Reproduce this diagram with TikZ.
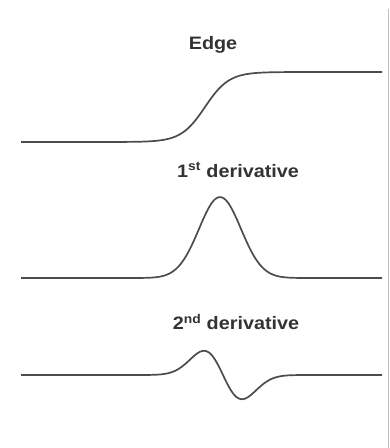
\documentclass[tikz,border=0pt]{standalone}
\usepackage{fontspec}
\setmainfont[FakeStretch=1.1]{Liberation Sans}
\usetikzlibrary{positioning}

\begin{document}
\begin{tikzpicture}[x=1pt,y=-1pt,font=\fontsize{18}{21}\selectfont\bfseries,
lbl/.style={text=black!80,inner sep=0pt},
curve/.style={draw=black!70,line width=1.7pt,smooth,samples=120}]
\useasboundingbox (0,0) rectangle (390,448);
\draw[black!25,line width=1pt] (388,9)--(388,448);
% labels
\node[lbl] (edge) at (213,45) {Edge};
\node[lbl] (first) at (238,170) {1\textsuperscript{st} derivative};
\node[lbl] (second) at (236,322) {2\textsuperscript{nd} derivative};
% edge profile
\draw[curve] plot[domain=21:382] (\x,{142-70/(1+exp(min(9,-(\x-205)/12)))});
% first derivative
\draw[curve] plot[domain=21:382] (\x,{278-81*exp(-0.5*((\x-220)/21)^2)});
% second derivative
\draw[curve] plot[domain=21:382] (\x,{375+40*((\x-223)/19)*exp(-0.5*((\x-223)/19)^2)});
\end{tikzpicture}
\end{document}
